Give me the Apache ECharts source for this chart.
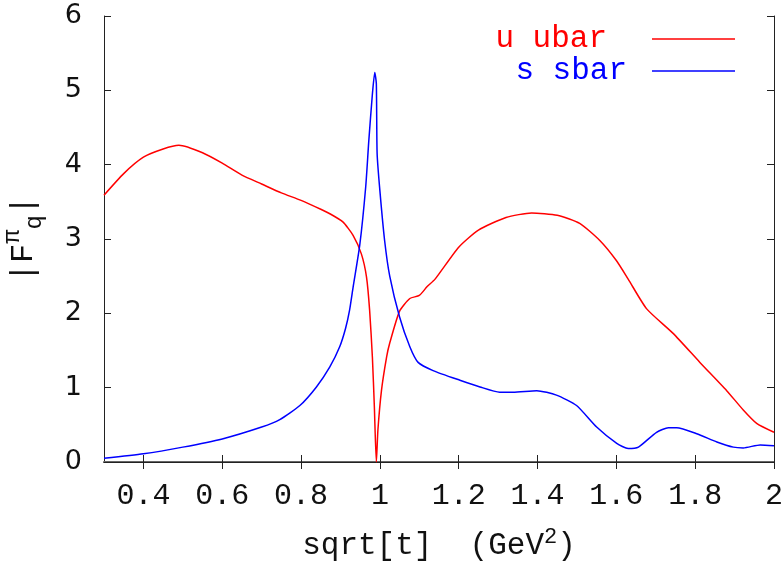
<!DOCTYPE html>
<html>
<head>
<meta charset="utf-8">
<script src="https://cdn.jsdelivr.net/npm/echarts@6/dist/echarts.min.js"></script>
<style>
  html, body { margin: 0; padding: 0; background: #fff; }
  #chart { width: 784px; height: 563px; }
</style>
</head>
<body>
<div id="chart"></div>
<script>
// u ubar curve
const uubarX = [0.30, 0.35, 0.40, 0.45, 0.49, 0.55, 0.60, 0.65, 0.70, 0.75, 0.80, 0.85, 0.873, 0.906, 0.932, 0.953, 0.966, 0.974, 0.981, 0.986, 0.991,
  0.995, 1.004, 1.017, 1.025, 1.05, 1.076, 1.10, 1.12, 1.14, 1.20, 1.25, 1.32, 1.385, 1.45, 1.507, 1.558, 1.60, 1.63, 1.677, 1.744, 1.812, 1.88, 1.922, 1.956, 2.00];
const uubarY = [3.59, 3.88, 4.10, 4.21, 4.26, 4.16, 4.02, 3.86, 3.74, 3.62, 3.52, 3.40, 3.34, 3.23, 3.05, 2.80, 2.49, 2.04, 1.41, 0.74, 0.00,
  0.43, 0.96, 1.41, 1.60, 2.03, 2.20, 2.24, 2.36, 2.46, 2.89, 3.12, 3.29, 3.35, 3.32, 3.21, 2.98, 2.71, 2.46, 2.06, 1.73, 1.34, 0.96, 0.70, 0.52, 0.40];

// s sbar curve
const ssbarX = [0.30, 0.40, 0.50, 0.60, 0.70, 0.746, 0.797, 0.839, 0.873, 0.898, 0.913, 0.923, 0.932, 0.949, 0.964, 0.972, 0.981, 0.987, 0.991, 0.993,
  1.00, 1.012, 1.025, 1.05, 1.076, 1.097, 1.135, 1.203, 1.254, 1.304, 1.338, 1.398, 1.448, 1.499, 1.55, 1.601, 1.63, 1.656, 1.702, 1.732, 1.753,
  1.804, 1.855, 1.897, 1.922, 1.965, 2.00];
const ssbarY = [0.05, 0.11, 0.20, 0.31, 0.47, 0.57, 0.76, 1.01, 1.28, 1.55, 1.80, 2.04, 2.35, 2.92, 3.70, 4.33, 4.95, 5.24, 5.09, 4.15,
  3.65, 2.98, 2.50, 1.95, 1.55, 1.34, 1.23, 1.10, 1.01, 0.94, 0.94, 0.96, 0.90, 0.76, 0.47, 0.25, 0.18, 0.20, 0.40, 0.46, 0.46,
  0.38, 0.27, 0.20, 0.19, 0.23, 0.22];

const xTicks = [0.4, 0.6, 0.8, 1.0, 1.2, 1.4, 1.6, 1.8, 2.0];

const mono = 'Liberation Mono';
const zip = (xs, ys) => xs.map((x, i) => [x, ys[i]]);

const chart = echarts.init(document.getElementById('chart'));

const tickStyle = { show: true, inside: true, length: 7, lineStyle: { color: '#222', width: 1 } };

chart.setOption({
  animation: false,
  backgroundColor: '#fff',
  grid: { left: 104, right: 10, top: 16, bottom: 101, outerBoundsMode: 'none', containLabel: false },
  legend: {
    orient: 'vertical',
    align: 'right',
    right: 49,
    top: 23,
    padding: 0,
    icon: 'rect',
    itemWidth: 83,
    itemHeight: 1.5,
    itemGap: 0,
    textStyle: { fontFamily: mono, fontSize: 31, lineHeight: 32 },
    data: [
      { name: 'u ubar', itemStyle: { color: '#ff0000' }, textStyle: { color: '#ff0000', padding: [0, 40, 0, 0] } },
      { name: 's sbar', itemStyle: { color: '#0000ff' }, textStyle: { color: '#0000ff', padding: [0, 20, 0, 0] } }
    ]
  },
  xAxis: [
    {
      type: 'value',
      min: 0.3,
      max: 2,
      position: 'bottom',
      name: 'sqrt[t]  (GeV{sup|2})',
      nameLocation: 'middle',
      nameGap: 64,
      nameTextStyle: {
        fontFamily: mono, fontSize: 31, color: '#111', lineHeight: 40,
        rich: { sup: { fontFamily: mono, fontSize: 22, lineHeight: 22, verticalAlign: 'top', color: '#111' } }
      },
      axisLine: { show: true, lineStyle: { color: '#666', width: 2 } },
      axisTick: Object.assign({ customValues: xTicks }, tickStyle),
      axisLabel: { customValues: xTicks, margin: 19, fontFamily: mono, fontSize: 30, color: '#111' },
      splitLine: { show: false }
    },
    {
      type: 'value',
      min: 0.3,
      max: 2,
      position: 'top',
      axisLine: { show: true, lineStyle: { color: '#222', width: 1 } },
      axisTick: Object.assign({ customValues: xTicks }, tickStyle),
      axisLabel: { show: false },
      splitLine: { show: false }
    }
  ],
  yAxis: [
    {
      type: 'value',
      min: 0,
      max: 6,
      interval: 1,
      position: 'left',
      name: '|F{sup|π}{sub|q}|',
      nameLocation: 'middle',
      nameGap: 57,
      nameTextStyle: {
        fontFamily: mono, fontSize: 32, color: '#111', lineHeight: 46,
        rich: {
          sup: { fontFamily: mono, fontSize: 24, lineHeight: 22, verticalAlign: 'top', color: '#111' },
          sub: { fontFamily: mono, fontSize: 24, lineHeight: 22, verticalAlign: 'bottom', color: '#111' }
        }
      },
      axisLine: { show: true, lineStyle: { color: '#222', width: 1 } },
      axisTick: tickStyle,
      axisLabel: { margin: 22, fontFamily: 'DejaVu Sans', fontSize: 27, color: '#111' },
      splitLine: { show: false }
    },
    {
      type: 'value',
      min: 0,
      max: 6,
      interval: 1,
      position: 'right',
      axisLine: { show: true, lineStyle: { color: '#222', width: 1 } },
      axisTick: tickStyle,
      axisLabel: { show: false },
      splitLine: { show: false }
    }
  ],
  series: [
    {
      name: 'u ubar',
      type: 'line',
      data: zip(uubarX, uubarY),
      symbol: 'none',
      smooth: 0.2,
      color: '#ff0000',
      lineStyle: { color: '#ff0000', width: 1.5 }
    },
    {
      name: 's sbar',
      type: 'line',
      data: zip(ssbarX, ssbarY),
      symbol: 'none',
      smooth: 0.2,
      color: '#0000ff',
      lineStyle: { color: '#0000ff', width: 1.5 }
    }
  ]
});
</script>
</body>
</html>
